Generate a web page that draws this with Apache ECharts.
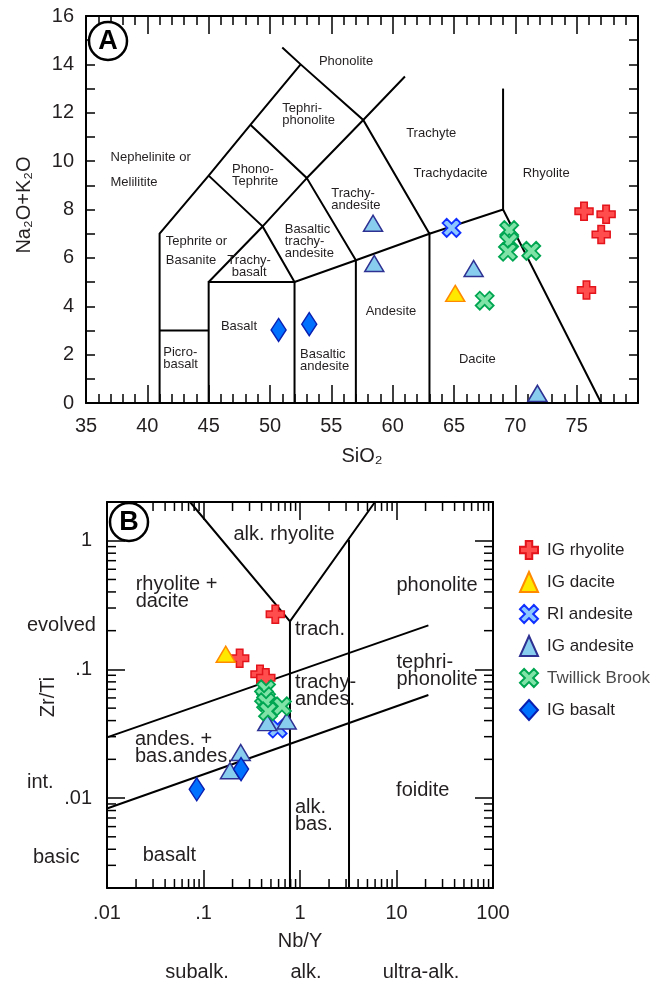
<!DOCTYPE html>
<html>
<head>
<meta charset="utf-8">
<script src="https://cdn.jsdelivr.net/npm/echarts@6/dist/echarts.min.js"></script>
<style>
  html, body { margin: 0; padding: 0; background: #fff; }
  #chart { width: 666px; height: 983px; }
</style>
</head>
<body>
<div id="chart"></div>
<script>
// ---- data ----
const groupNames = ['IG rhyolite', 'IG dacite', 'RI andesite', 'IG andesite', 'Twillick Brook', 'IG basalt'];

// panel A: SiO2 (wt%) vs Na2O+K2O (wt%)
const tasRhyolite = [[75.6, 7.93], [77.4, 7.80], [77.0, 6.97], [75.8, 4.67]];
const tasDacite = [[65.1, 4.53]];
const tasRiAndesite = [[64.8, 7.24]];
const tasIgAndesite = [[58.4, 7.43], [58.5, 5.77], [66.6, 5.56], [71.8, 0.40]];
const tasTwillick = [[69.5, 7.15], [69.5, 6.67], [69.4, 6.25], [71.3, 6.29], [67.5, 4.23]];
const tasBasalt = [[50.7, 3.02], [53.2, 3.26]];

// panel B: Nb/Y vs Zr/Ti
const wfRhyolite = [[0.555, 0.268], [0.237, 0.122], [0.385, 0.0915], [0.442, 0.0862]];
const wfDacite = [[0.170, 0.131]];
const wfRiAndesite = [[0.587, 0.0347]];
const wfIgAndesite = [[0.458, 0.0386], [0.728, 0.0397], [0.243, 0.0226], [0.188, 0.0163]];
const wfTwillick = [[0.445, 0.070], [0.424, 0.0618], [0.445, 0.0555], [0.650, 0.0517], [0.466, 0.0472]];
const wfBasalt = [[0.245, 0.0168], [0.0851, 0.0117]];

// field boundaries (TAS, Le Bas et al.)
const tasBoundaries = [
    [[41, 0], [41, 7], [45, 9.4], [48.4, 11.5], [52.5, 14]],
    [[51, 14.7], [52.5, 14], [57.6, 11.7], [63, 7], [69, 8], [77, 0]],
    [[41, 3], [45, 3]],
    [[45, 0], [45, 5], [52, 5], [52, 0]],
    [[45, 5], [49.4, 7.3], [52, 5], [57, 5.9], [63, 7], [63, 0]],
    [[45, 9.4], [49.4, 7.3], [53, 9.3], [57, 5.9], [57, 0]],
    [[48.4, 11.5], [53, 9.3], [57.6, 11.7], [61, 13.5]],
    [[69, 8], [69, 13]]
];
// field boundaries (Zr/Ti vs Nb/Y)
const wfBoundaries = [
    [[0.0725, 2], [0.787, 0.236], [5.98, 2]],
    [[0.787, 0.236], [0.787, 0.002]],
    [[3.22, 1.02], [3.22, 0.002]],
    [[0.01, 0.0296], [21.4, 0.22]],
    [[0.01, 0.0083], [21.4, 0.0632]]
];

// field names
const tasFields = [
    { text: 'Phonolite', at: [56.2, 14.14], align: 'center' },
    { text: 'Tephri-\nphonolite', at: [51.0, 11.92] },
    { text: 'Nephelinite or', at: [37.0, 10.15] },
    { text: 'Melilitite', at: [37.0, 9.14] },
    { text: 'Phono-\nTephrite', at: [46.9, 9.40] },
    { text: 'Trachy-\nandesite', at: [55.0, 8.43] },
    { text: 'Trachyte', at: [61.1, 11.14] },
    { text: 'Trachydacite', at: [61.7, 9.49] },
    { text: 'Rhyolite', at: [70.6, 9.49] },
    { text: 'Tephrite or', at: [41.5, 6.67] },
    { text: 'Basanite', at: [41.5, 5.91] },
    { text: 'Trachy-\nbasalt', at: [48.3, 5.65], align: 'center' },
    { text: 'Basaltic\ntrachy-\nandesite', at: [51.2, 6.67] },
    { text: 'Basalt', at: [46.0, 3.18] },
    { text: 'Picro-\nbasalt', at: [41.3, 1.83] },
    { text: 'Basaltic\nandesite', at: [52.45, 1.75] },
    { text: 'Andesite', at: [57.8, 3.77] },
    { text: 'Dacite', at: [65.4, 1.82] }
];
const wfFields = [
    { text: 'alk. rhyolite', at: [0.683, 1.11], align: 'center' },
    { text: 'rhyolite +\ndacite', at: [0.0198, 0.395] },
    { text: 'trach.', at: [0.887, 0.204] },
    { text: 'trachy-\nandes.', at: [0.887, 0.0676] },
    { text: 'phonolite', at: [10.0, 0.448] },
    { text: 'tephri-\nphonolite', at: [10.0, 0.0965] },
    { text: 'andes. +\nbas.andes.', at: [0.0195, 0.0244] },
    { text: 'foidite', at: [9.9, 0.01153] },
    { text: 'alk.\nbas.', at: [0.887, 0.00725] },
    { text: 'basalt', at: [0.0234, 0.00361] }
];

// ---- styling ----
const FONT = "'Liberation Sans', Arial, Helvetica, sans-serif";
const INK = '#231f20';
const plusPath = 'path://M3.2,0H6.8V3.2H10V6.8H6.8V10H3.2V6.8H0V3.2H3.2Z';
const xPath = 'path://M0,2.3L2.3,0L5,2.7L7.7,0L10,2.3L7.3,5L10,7.7L7.7,10L5,7.3L2.3,10L0,7.7L2.7,5Z';

const groupStyle = [
    { symbol: plusPath, size: 18, fill: '#ff4d4d', stroke: '#e3141b', bw: 1.5 },
    { symbol: 'triangle', size: [19, 16], fill: '#ffe800', stroke: '#ff8a00', bw: 1.5 },
    { symbol: xPath, size: 18, fill: '#8cc8ff', stroke: '#1030ff', bw: 1.8 },
    { symbol: 'triangle', size: [19, 16], fill: '#88ccee', stroke: '#2e3192', bw: 1.5 },
    { symbol: xPath, size: 18, fill: '#7fe3a8', stroke: '#00a651', bw: 1.8 },
    { symbol: 'diamond', size: [15, 23], fill: '#0070ff', stroke: '#0a1fb0', bw: 1.5 }
];
const tasData = [tasRhyolite, tasDacite, tasRiAndesite, tasIgAndesite, tasTwillick, tasBasalt];
const wfData = [wfRhyolite, wfDacite, wfRiAndesite, wfIgAndesite, wfTwillick, wfBasalt];

// log minor ticks for panel B (2..9 in each decade)
const xMinor = [];
[0.01, 0.1, 1, 10].forEach(d => { for (let k = 2; k <= 9; k++) xMinor.push(+(k * d).toPrecision(3)); });
const yMinor = [];
[0.001, 0.01, 0.1].forEach(d => { for (let k = 2; k <= 9; k++) { const v = +(k * d).toPrecision(3); if (v > 0.002 && v < 2) yMinor.push(v); } });

const B_X = [0.01, 100], B_Y = [0.002, 2];

function decimalLabel(v) {
    const l = Math.log10(v);
    if (Math.abs(l - Math.round(l)) > 1e-6) return '';
    const r = Math.pow(10, Math.round(l));
    return r >= 1 ? String(r) : String(+r.toPrecision(1)).replace(/^0/, '');
}

const axisLine = { show: true, onZero: false, lineStyle: { color: '#000', width: 2 } };
const tickStyle = { color: '#000', width: 1.5 };
const labelStyle = { color: INK, fontSize: 20, fontFamily: FONT };

function linAxis(extra) {
    return Object.assign({
        type: 'value', axisLine: axisLine, splitLine: { show: false },
        axisTick: { show: true, inside: true, length: 18, lineStyle: tickStyle },
        minorTick: { show: true, length: 9, lineStyle: tickStyle },
        minorSplitLine: { show: false }
    }, extra);
}
function logAxis(extra) {
    return Object.assign({
        type: 'log', logBase: 10, axisLine: axisLine, splitLine: { show: false },
        axisTick: { show: true, inside: true, length: 18, lineStyle: tickStyle }
    }, extra);
}

function fieldSeries(list, xi, yi, fontSize, lineHeight) {
    return {
        type: 'scatter', name: 'fields' + xi, xAxisIndex: xi, yAxisIndex: yi,
        symbolSize: 0, silent: true, z: 4,
        itemStyle: { opacity: 1 },
        data: list.map(f => ({
            value: f.at, name: f.text,
            label: { align: f.align || 'left' }
        })),
        label: {
            show: true, position: [0, 0], formatter: p => p.name, opacity: 1,
            fontSize: fontSize, lineHeight: lineHeight, color: INK, fontFamily: FONT,
            verticalAlign: 'middle'
        }
    };
}

function tickLine(x1, y1, x2, y2) {
    return { type: 'line', shape: { x1: x1, y1: y1, x2: x2, y2: y2 }, style: { stroke: '#000', lineWidth: 1.5 } };
}

const series = [];
// boundary lines
series.push({
    type: 'lines', name: 'tasLines', coordinateSystem: 'cartesian2d', xAxisIndex: 0, yAxisIndex: 0,
    polyline: true, silent: true, z: 2,
    lineStyle: { color: '#000', width: 2, opacity: 1 },
    data: tasBoundaries.map(c => ({ coords: c }))
});
series.push({
    type: 'lines', name: 'wfLines', coordinateSystem: 'cartesian2d', xAxisIndex: 2, yAxisIndex: 2,
    polyline: true, silent: true, z: 2,
    lineStyle: { color: '#000', width: 2, opacity: 1 },
    data: wfBoundaries.map(c => ({ coords: c }))
});
// minor log ticks for panel B
series.push({
    type: 'custom', name: 'xMinor', xAxisIndex: 2, yAxisIndex: 2, silent: true, z: 3,
    data: xMinor.map(v => [v, 0.01]),
    renderItem: (params, api) => {
        const b = api.coord([api.value(0), B_Y[0]]);
        const t = api.coord([api.value(0), B_Y[1]]);
        return { type: 'group', children: [tickLine(b[0], b[1], b[0], b[1] - 9), tickLine(t[0], t[1], t[0], t[1] + 9)] };
    }
});
series.push({
    type: 'custom', name: 'yMinor', xAxisIndex: 2, yAxisIndex: 2, silent: true, z: 3,
    data: yMinor.map(v => [0.1, v]),
    renderItem: (params, api) => {
        const l = api.coord([B_X[0], api.value(1)]);
        const r = api.coord([B_X[1], api.value(1)]);
        return { type: 'group', children: [tickLine(l[0], l[1], l[0] + 9, l[1]), tickLine(r[0], r[1], r[0] - 9, r[1])] };
    }
});
series.push(fieldSeries(tasFields, 0, 0, 13, 12));
series.push(fieldSeries(wfFields, 2, 2, 20, 17));

groupNames.forEach((name, i) => {
    const st = groupStyle[i];
    const common = {
        type: 'scatter', name: name, symbol: st.symbol, symbolSize: st.size, z: 6,
        itemStyle: { color: st.fill, borderColor: st.stroke, borderWidth: st.bw, opacity: 1 },
        emphasis: { disabled: true }
    };
    series.push(Object.assign({ xAxisIndex: 0, yAxisIndex: 0, data: tasData[i] }, common));
    series.push(Object.assign({ xAxisIndex: 2, yAxisIndex: 2, data: wfData[i] }, common));
});

function txt(text, x, y, opts) {
    return Object.assign({
        type: 'text', x: x, y: y, z: 50,
        style: Object.assign({ text: text, fill: INK, fontSize: 20, fontFamily: FONT, align: 'center', verticalAlign: 'middle' }, (opts && opts.style) || {})
    }, opts && opts.rotation ? { rotation: opts.rotation } : {});
}
function badge(letter, cx, cy) {
    return [
        { type: 'circle', z: 60, shape: { cx: cx, cy: cy, r: 19 }, style: { fill: '#fff', stroke: '#000', lineWidth: 2.5 } },
        { type: 'text', z: 61, x: cx, y: cy + 1, style: { text: letter, fill: '#000', fontSize: 27, fontWeight: 'bold', fontFamily: FONT, align: 'center', verticalAlign: 'middle' } }
    ];
}

const chart = echarts.init(document.getElementById('chart'), null, { renderer: 'canvas' });
chart.setOption({
    animation: false,
    backgroundColor: '#fff',
    textStyle: { fontFamily: FONT },
    grid: [
        { left: 86, top: 16, width: 552, height: 387, outerBoundsMode: 'none', containLabel: false },
        { left: 107, top: 502, width: 386, height: 386, outerBoundsMode: 'none', containLabel: false }
    ],
    xAxis: [
        linAxis({ gridIndex: 0, min: 35, max: 80, interval: 5, position: 'bottom',
            minorTick: { show: true, splitNumber: 5, length: 9, lineStyle: tickStyle },
            axisLabel: Object.assign({ margin: 13, formatter: v => (v === 80 ? '' : String(v)) }, labelStyle) }),
        linAxis({ gridIndex: 0, min: 35, max: 80, interval: 5, position: 'top',
            minorTick: { show: true, splitNumber: 5, length: 9, lineStyle: tickStyle },
            axisLabel: { show: false } }),
        logAxis({ gridIndex: 1, min: B_X[0], max: B_X[1], position: 'bottom',
            axisLabel: Object.assign({ margin: 15, formatter: decimalLabel, showMinLabel: true, showMaxLabel: true }, labelStyle) }),
        logAxis({ gridIndex: 1, min: B_X[0], max: B_X[1], position: 'top', axisLabel: { show: false } })
    ],
    yAxis: [
        linAxis({ gridIndex: 0, min: 0, max: 16, interval: 2, position: 'left',
            axisTick: { show: true, inside: true, length: 9, lineStyle: tickStyle },
            minorTick: { show: true, splitNumber: 2, length: 9, lineStyle: tickStyle },
            axisLabel: Object.assign({ margin: 12 }, labelStyle) }),
        linAxis({ gridIndex: 0, min: 0, max: 16, interval: 2, position: 'right',
            axisTick: { show: true, inside: true, length: 9, lineStyle: tickStyle },
            minorTick: { show: true, splitNumber: 2, length: 9, lineStyle: tickStyle },
            axisLabel: { show: false } }),
        logAxis({ gridIndex: 1, min: B_Y[0], max: B_Y[1], position: 'left',
            axisLabel: Object.assign({ margin: 15, formatter: decimalLabel }, labelStyle) }),
        logAxis({ gridIndex: 1, min: B_Y[0], max: B_Y[1], position: 'right', axisLabel: { show: false } })
    ],
    legend: {
        show: true, orient: 'vertical', left: 519, top: 540, padding: 0,
        itemWidth: 18, itemHeight: 20, itemGap: 11, selectedMode: false,
        textStyle: { fontSize: 17, color: INK, fontFamily: FONT, padding: [0, 0, 0, 4] },
        data: groupNames.map(n => (n === 'Twillick Brook' ? { name: n, textStyle: { color: '#4a4a4a' } } : { name: n }))
    },
    graphic: [
        ...badge('A', 108, 41),
        ...badge('B', 129, 522),
        txt('SiO\u2082', 362, 456),
        txt('Na\u2082O+K\u2082O', 24, 205, { rotation: Math.PI / 2 }),
        txt('Zr/Ti', 48, 697, { rotation: Math.PI / 2 }),
        txt('Nb/Y', 300, 941),
        txt('subalk.', 197, 972),
        txt('alk.', 306, 972),
        txt('ultra-alk.', 421, 972),
        txt('evolved', 27, 625, { style: { align: 'left' } }),
        txt('int.', 27, 782, { style: { align: 'left' } }),
        txt('basic', 33, 857, { style: { align: 'left' } })
    ],
    series: series
});
</script>
</body>
</html>
